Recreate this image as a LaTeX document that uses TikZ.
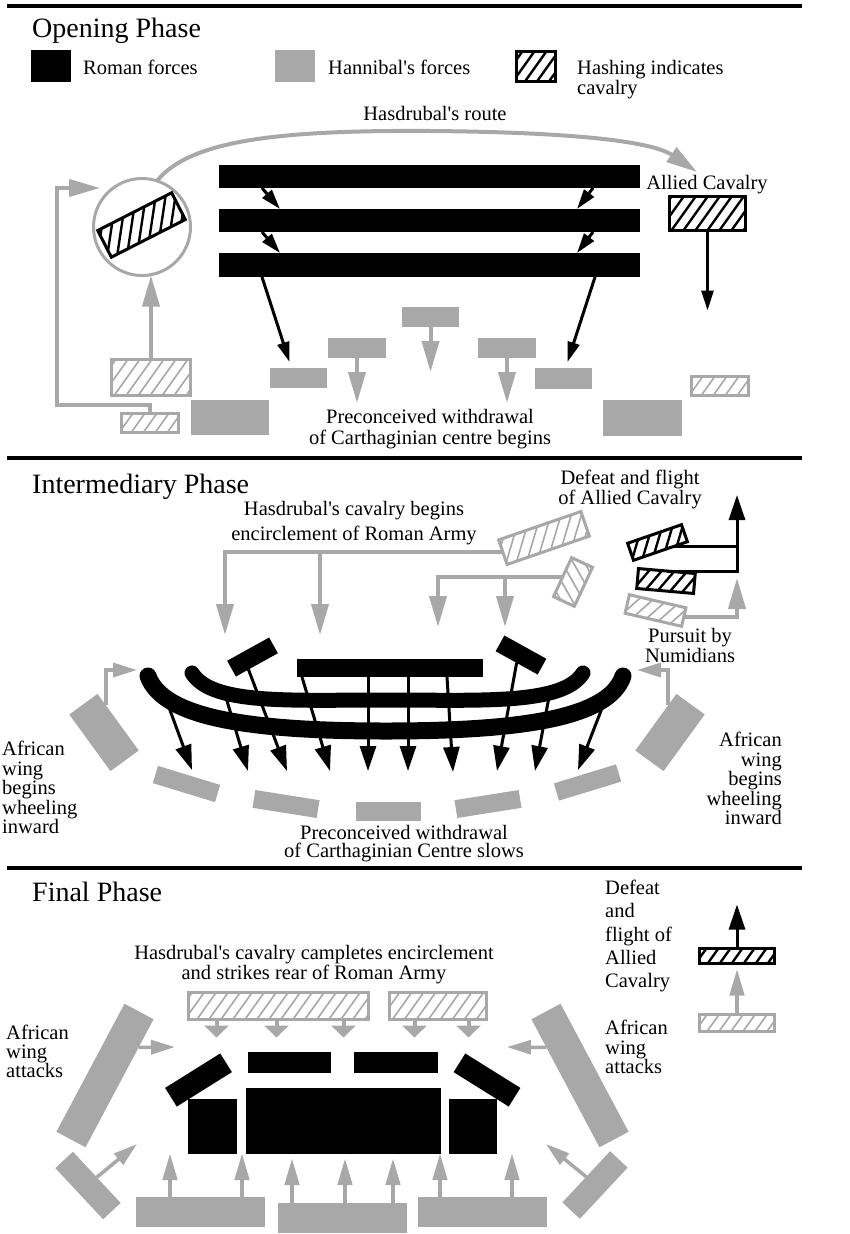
\documentclass[tikz,border=0pt]{standalone}
\usepackage{fontspec}
\setmainfont{Liberation Serif}
\usetikzlibrary{arrows.meta, calc, positioning}
\definecolor{hgray}{RGB}{168,168,168}
\tikzset{
  sz/.style 2 args={rectangle, minimum width=#1pt, minimum height=#2pt},
  roman/.style={fill=black, inner sep=0pt, outer sep=0pt},
  punic/.style={fill=hgray, inner sep=0pt, outer sep=0pt},
  cav/.style n args={3}{draw=#1, line width=3pt, fill=white, inner sep=0pt, outer sep=0pt, rotate=#3,
    path picture={\foreach \k in {-16,...,16}
      \draw[rotate around={-#3:(path picture bounding box.center)}, #1, line width=#2]
        ([shift={(\k*12-25,35)}]path picture bounding box.center) --
        ([shift={(\k*12+25,-35)}]path picture bounding box.center);}},
  rcav/.style={cav={black}{2.4pt}{#1}}, rcav/.default=0,
  pcav/.style={cav={hgray}{1.6pt}{#1}}, pcav/.default=0,
  phase/.style={font=\fontsize{28}{32}\selectfont, inner sep=0pt, anchor=base west},
  lbl/.style={font=\fontsize{20.5}{20}\selectfont, inner sep=0pt},
  rule/.style={line width=3.5pt},
  gline/.style={draw=hgray, line width=4pt},
  garrow/.style={gline, -{Triangle[length=31pt,width=17pt]}},
  gstub/.style={gline, -{Triangle[length=12pt,width=24pt]}},
  gup/.style={draw=hgray, line width=4.5pt, -{Triangle[length=27pt,width=14pt]}},
  gwing/.style={draw=hgray, line width=3.5pt, -{Triangle[length=24pt,width=14pt]}},
  rarrow/.style={draw=black, line width=3pt, -{Triangle[length=20pt,width=12pt]}},
  rbig/.style={draw=black, line width=3pt, -{Triangle[length=25pt,width=16pt]}},
}
\begin{document}
\begin{tikzpicture}[x=1pt, y=-1pt]
\useasboundingbox (0,0) rectangle (850,1234);

\draw[rule] (7,6) -- (802,6);
\node[phase] (ophase) at (32,37.5) {Opening Phase};
\node[roman, sz={40}{32}] (keyrom) at (51,66) {};
\node[lbl, anchor=base west] (keyromlbl) at (83,74) {Roman forces};
\node[punic, sz={40}{32}] (keypun) at (295,66) {};
\node[lbl, anchor=base west] (keypunlbl) at (328,74) {Hannibal\textquotesingle s forces};
\node[rcav, sz={39}{30}] (keycav) at (536,66) {};
\node[lbl, anchor=north west, align=left] (keycavlbl) at (577,60) {Hashing indicates\\cavalry};
\node[lbl, anchor=base] (routelbl) at (435,120) {Hasdrubal\textquotesingle s route};

\node[roman, sz={421}{23}] (bara) at (429.5,176.5) {};
\node[roman, sz={421}{23}, below=21pt of bara] (barb) {};
\node[roman, sz={421}{24}, below=21pt of barb] (barc) {};
\node[rcav, sz={76}{34}] (allied) at (707.5,213.5) {};
\node[lbl, anchor=base] (alliedlbl) at (707,189) {Allied Cavalry};

\node[circle, draw=hgray, line width=3pt, minimum size=97pt, inner sep=0pt, outer sep=0pt] (circ) at (142,227) {};
\node[rcav=27, sz={83}{30}] (circav) at (141.5,225) {};
\node[pcav, sz={79}{36}] (numa) at (151,377.5) {};
\node[pcav, sz={57}{19}] (numb) at (150,423) {};
\node[punic, sz={78}{35}] (inflL) at (230,417.5) {};
\node[punic, sz={57}{20}] (cena) at (298.5,378) {};
\node[punic, sz={58}{20}] (cenb) at (357,348) {};
\node[punic, sz={57}{20}] (cenc) at (430.5,317) {};
\node[punic, sz={58}{20}] (cend) at (507,348) {};
\node[punic, sz={57}{21}] (cene) at (563.5,378.5) {};
\node[punic, sz={79}{36}] (inflR) at (642.5,418) {};
\node[pcav, sz={57}{19}] (numc) at (720,386) {};
\node[lbl, anchor=north, align=center, font=\fontsize{20.5}{21}\selectfont] (begins) at (430,409)
  {Preconceived withdrawal\\of Carthaginian centre begins};

\coordinate (routeend) at (697,172);
\coordinate (loopend) at (100,188);
\draw[garrow] (circ.72) .. controls (190,140) and (280,130) .. (430,131)
  .. controls (560,132) and (650,140) .. (routeend);
\draw[garrow] (numb.north) -- ++(0,-9) -| ($(loopend)+(-43,0)$) -- (loopend);
\draw[garrow] (numa.north) -- (numa.north |- circ.south);
\draw[rarrow] ($(bara.south west)+(43,0)$) -- ($(barb.north west)+(61,0)$);
\draw[rarrow] ($(bara.south east)+(-47,0)$) -- ($(barb.north east)+(-63,0)$);
\draw[rarrow] ($(barb.south west)+(43,0)$) -- ($(barc.north west)+(61,0)$);
\draw[rarrow] ($(barb.south east)+(-47,0)$) -- ($(barc.north east)+(-63,0)$);
\draw[rarrow] ($(barc.south west)+(43,0)$) -- ($(cena.north)+(-9,-6)$);
\draw[rarrow] ($(barc.south east)+(-45,0)$) -- ($(cene.north)+(4,-6)$);
\draw[rarrow] (allied.south) -- ++(0,80);
\draw[garrow] (cenb.south) -- ++(0,45);
\draw[garrow] (cenc.south) -- ++(0,45);
\draw[garrow] (cend.south) -- ++(0,45);

\draw[rule] (7,458) -- (802,458);
\node[phase] (iphase) at (32,493) {Intermediary Phase};
\node[lbl, anchor=north, align=center, font=\fontsize{20.5}{25.5}\selectfont] (enclbl) at (354,501)
  {Hasdrubal\textquotesingle s cavalry begins\\encirclement of Roman Army};
\node[lbl, anchor=north, align=center] (defeatlbl) at (630,470) {Defeat and flight\\of Allied Cavalry};
\node[lbl, anchor=north, align=center, font=\fontsize{20.5}{18}\selectfont] (pursuitlbl) at (690,628)
  {Pursuit by\\Numidians};
\node[lbl, anchor=north west, align=left, font=\fontsize{20.5}{19.5}\selectfont] (wingLlbl) at (2,741)
  {African\\wing\\begins\\wheeling\\inward};
\node[lbl, anchor=north east, align=right, font=\fontsize{20.5}{19.5}\selectfont] (wingRlbl) at (782,732)
  {African\\wing\\begins\\wheeling\\inward};
\node[lbl, anchor=north, align=center, font=\fontsize{20.5}{18.5}\selectfont] (slowlbl) at (404,825)
  {Preconceived withdrawal\\of Carthaginian Centre slows};

\node[pcav=19, sz={87}{26}] (hasa) at (544,538) {};
\node[pcav=65, sz={43}{23}] (hasb) at (573,582) {};
\node[rcav=19, sz={57}{18}] (fleea) at (657.5,542.5) {};
\node[rcav=-5, sz={57}{20}] (fleeb) at (666,581) {};
\node[pcav=-13, sz={58}{19}] (pursue) at (655.5,610.5) {};

\draw[line width=17pt, line cap=round] (148,676) .. controls (163,718) and (250,731) .. (386,731)
  coordinate[pos=0.2] (outa) .. controls (522,731) and (609,718) .. (623,676) coordinate[pos=0.8] (outb);
\draw[line width=15pt, line cap=round] (192,673) .. controls (212,705) and (290,700) .. (386,700)
  coordinate[pos=0.3] (ina) .. controls (482,700) and (563,705) .. (583,673) coordinate[pos=0.7] (inb);
\node[roman, sz={186}{18}] (mbar) at (390,668) {};
\node[roman, sz={48}{18}, rotate=29] (mleft) at (252.5,657) {};
\node[roman, sz={48}{18}, rotate=-29] (mright) at (521,655) {};

\node[punic, sz={65}{18}, rotate=-17] (wda) at (186.5,784) {};
\node[punic, sz={65}{18}, rotate=-9] (wdb) at (286,804) {};
\node[punic, sz={65}{19}] (wdc) at (388.5,811.5) {};
\node[punic, sz={65}{18}, rotate=9] (wdd) at (488,804) {};
\node[punic, sz={65}{18}, rotate=17] (wde) at (587.5,782.5) {};
\node[punic, sz={70}{35}, rotate=-54] (wingL) at (104,732.5) {};
\node[punic, sz={70}{35}, rotate=54] (wingR) at (670,732.5) {};

\foreach \n/\x/\y in {ta/192/770, tb/248/771, tc/287/771, td/330/771, te/368/771,
  tf/408/771, tg/453/772, th/497/771, ti/535/771, tj/578/770,
  enca/225/635, encb/320/635, encc/438/627, encd/505/627,
  fleetop/737/495, pursuit/737/578, wlt/137/670, wrt/637/670}
  \coordinate (\n) at (\x,\y);
\draw[rbig] (outa) -- (ta);
\draw[rbig] (ina) -- (tb);
\draw[rbig] ($(mleft.south)!0.4!(mleft.south west)$) -- (tc);
\draw[rbig] ($(mbar.south west)+(5,0)$) -- (td);
\draw[rbig] ($(mbar.south west)+(71,0)$) -- (te);
\draw[rbig] ($(mbar.south west)+(111,0)$) -- (tf);
\draw[rbig] ($(mbar.south east)+(-36,0)$) -- (tg);
\draw[rbig] (mright.south) -- (th);
\draw[rbig] (inb) -- (ti);
\draw[rbig] (outb) -- (tj);

\draw[garrow] (hasa.west) -| (enca);
\draw[garrow] (encb |- hasa.west) -- (encb);
\draw[garrow] (hasb.north) -| (encc);
\draw[garrow] (encd |- hasb.north) -- (encd);
\draw[rbig] (fleeb.north) -| (fleetop);
\coordinate (fleelo) at ($(fleea.south)!0.45!(fleea.south east)$);
\draw[line width=3pt] (fleelo) -- (fleelo -| fleetop);
\draw[garrow] (pursue.east) -| (pursuit);
\draw[gwing] ($(wingL.north west)!0.2!(wingL.north east)$) |- (wlt);
\draw[gwing] ($(wingR.north east)!0.2!(wingR.north west)$) |- (wrt);

\draw[rule] (7,868) -- (802,868);
\node[phase] (fphase) at (32,901) {Final Phase};
\node[lbl, anchor=north, align=center] (strikelbl) at (314,945)
  {Hasdrubal\textquotesingle s cavalry campletes encirclement\\and strikes rear of Roman Army};
\node[lbl, anchor=north west, align=left, font=\fontsize{20.5}{23.25}\selectfont] (defeat3lbl) at (605,880)
  {Defeat\\and\\flight of\\Allied\\Cavalry};
\node[lbl, anchor=north west, align=left, font=\fontsize{20.5}{19.5}\selectfont] (wing3R) at (605,1020)
  {African\\wing\\attacks};
\node[lbl, anchor=north west, align=left, font=\fontsize{20.5}{19}\selectfont] (wing3L) at (6,1025)
  {African\\wing\\attacks};

\node[pcav, sz={180}{27}] (reara) at (278.5,1006) {};
\node[pcav, sz={97}{27}] (rearb) at (438,1006) {};
\node[roman, sz={65}{22}, rotate=32] (fla) at (198.5,1080) {};
\node[roman, sz={83}{21}] (fta) at (289.5,1062.5) {};
\node[roman, sz={84}{21}] (ftb) at (396,1062.5) {};
\node[roman, sz={65}{22}, rotate=-32] (fra) at (487,1080) {};
\node[roman, sz={49}{55}] (fsqa) at (212.5,1126.5) {};
\node[roman, sz={195}{66}] (fbig) at (343.5,1121) {};
\node[roman, sz={48}{55}] (fsqb) at (473,1126.5) {};
\node[punic, sz={129}{30}] (fba) at (200.5,1212) {};
\node[punic, sz={129}{30}] (fbb) at (342.5,1218) {};
\node[punic, sz={129}{30}] (fbc) at (482.5,1212) {};
\node[punic, sz={145}{33}, rotate=62] (fwl) at (105,1075.5) {};
\node[punic, sz={145}{33}, rotate=-62] (fwr) at (580,1075.5) {};
\node[punic, sz={70}{24}, rotate=-47] (fsl) at (88,1185.5) {};
\node[punic, sz={70}{24}, rotate=47] (fsr) at (595,1185) {};
\node[rcav, sz={75}{15}] (fled) at (737,956) {};
\node[pcav, sz={75}{17}] (chase) at (737,1023) {};

\foreach \dx in {28,88,155} \draw[gstub] ($(reara.south west)+(\dx,0)$) -- ++(0,18);
\foreach \dx in {25,79} \draw[gstub] ($(rearb.south west)+(\dx,0)$) -- ++(0,18);
\foreach \dx in {34,106} \draw[gup] ($(fba.north west)+(\dx,0)$) -- ++(0,-44);
\foreach \dx in {14,67,115} \draw[gup] ($(fbb.north west)+(\dx,0)$) -- ++(0,-45);
\foreach \dx in {22,94} \draw[gup] ($(fbc.north west)+(\dx,0)$) -- ++(0,-44);
\coordinate (fwlt) at (175,1047);
\coordinate (fwrt) at (507,1047);
\coordinate (fslt) at (137,1144);
\coordinate (fsrt) at (546,1144);
\draw[gwing] ($(fwl.south)!0.56!(fwl.south east)$) -- (fwlt);
\draw[gwing] ($(fwr.south)!0.56!(fwr.south west)$) -- (fwrt);
\draw[gwing] (fsl.north) -- (fslt);
\draw[gwing] (fsr.north) -- (fsrt);
\draw[rbig] (fled.north) -- ++(0,-44);
\draw[gup] (chase.north) -- ($(fled.south)+(0,5)$);
\end{tikzpicture}
\end{document}
